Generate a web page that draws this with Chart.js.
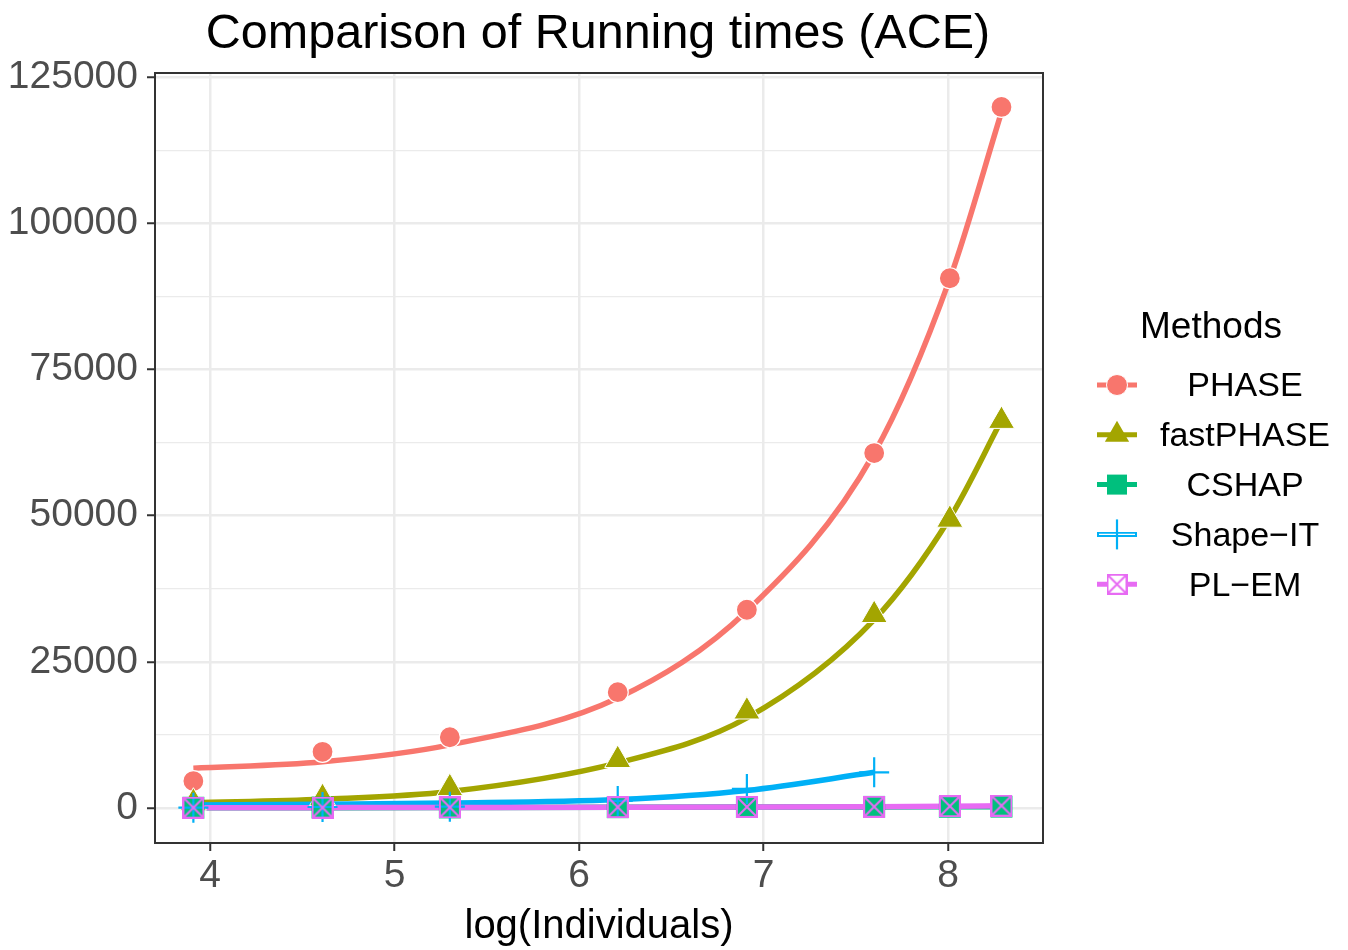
<!DOCTYPE html>
<html>
<head>
<meta charset="utf-8">
<script src="https://cdn.jsdelivr.net/npm/chart.js@4.4.0/dist/chart.umd.min.js"></script>
<style>
  html, body { margin: 0; padding: 0; background: #fff; }
  canvas { display: block; }
</style>
</head>
<body>
<canvas id="chart" width="1348" height="950"></canvas>
<script>
// x positions: log of 50, 100, 200, 500, 1000, 2000, 3000, 4000 individuals
const logIndividuals = [3.91, 4.61, 5.30, 6.21, 6.91, 7.60, 8.01, 8.29];
const xTicks = [4, 5, 6, 7, 8];
const yTicks = [0, 25000, 50000, 75000, 100000, 125000];

const methods = ['PHASE', 'fastPHASE', 'CSHAP', 'Shape\u2212IT', 'PL\u2212EM'];
const colors = ['#F8766D', '#A3A500', '#00BF7D', '#00B0F6', '#E76BF3'];

// observed running times (points)
const phaseTimes = [4600, 9600, 12100, 19800, 33900, 60700, 90600, 119900];
const fastPhaseTimes = [900, 1700, 3400, 8200, 16500, 33000, 49300, 66200];
const cshapTimes = [40, 60, 90, 130, 160, 190, 210, 230];
const shapeItTimes = [50, 170, 220, 1200, 3250, 6100];
const plemTimes = [50, 70, 100, 140, 180, 220, 300, 400];

// smoothed curves
const phaseFit = [6800, 7900, 10800, 18800, 33700, 60700, 90500, 119000];
const fastPhaseFit = [900, 1500, 2800, 7700, 15400, 32200, 49600, 66300];
const cshapFit = [30, 50, 80, 120, 150, 180, 190, 200];
const shapeItFit = [500, 650, 850, 1450, 3000, 6100];
const plemFit = [40, 60, 90, 130, 170, 230, 300, 380];

const FONT = '"Liberation Sans", Arial, Helvetica, sans-serif';

function toPoints(values) {
    return values.map((v, i) => ({ x: logIndividuals[i], y: v }));
}

function makeBoxX(size, color, lw) {
    const c = document.createElement('canvas');
    c.width = size;
    c.height = size;
    const g = c.getContext('2d');
    g.strokeStyle = color;
    g.lineWidth = lw;
    const h = lw / 2;
    g.strokeRect(h, h, size - lw, size - lw);
    g.beginPath();
    g.moveTo(h, h); g.lineTo(size - h, size - h);
    g.moveTo(size - h, h); g.lineTo(h, size - h);
    g.stroke();
    return c;
}

const plemMarker = makeBoxX(22, colors[4], 2);
const plemLegendMarker = makeBoxX(21, colors[4], 2);

function fitLine(values, color, order) {
    return {
        data: toPoints(values),
        borderColor: color,
        borderWidth: 5.5,
        pointRadius: 0,
        fill: false,
        cubicInterpolationMode: 'monotone',
        order: order
    };
}

function pointSet(values, style, order) {
    return Object.assign({
        data: toPoints(values),
        showLine: false,
        order: order
    }, style);
}

const datasets = [
    // points on top, PL-EM drawn last
    pointSet(plemTimes, { pointStyle: plemMarker, pointRadius: 11 }, 0),
    pointSet(shapeItTimes, { pointStyle: 'cross', pointRadius: 15, pointBorderColor: colors[3], pointBorderWidth: 2.2 }, 1),
    pointSet(cshapTimes, { pointStyle: 'rect', pointRadius: 15.5, pointBackgroundColor: colors[2], pointBorderWidth: 0 }, 2),
    pointSet(fastPhaseTimes, { pointStyle: 'triangle', pointRadius: 15, pointBackgroundColor: colors[1], pointBorderColor: '#ffffff', pointBorderWidth: 1 }, 3),
    pointSet(phaseTimes, { pointStyle: 'circle', pointRadius: 10.5, pointBackgroundColor: colors[0], pointBorderColor: '#ffffff', pointBorderWidth: 1.2 }, 4),
    // fitted lines underneath
    fitLine(plemFit, colors[4], 10),
    fitLine(shapeItFit, colors[3], 11),
    fitLine(cshapFit, colors[2], 12),
    fitLine(fastPhaseFit, colors[1], 13),
    fitLine(phaseFit, colors[0], 14)
];

const ggDecor = {
    id: 'ggDecor',
    beforeDraw(chart) {
        const ctx = chart.ctx;
        ctx.save();
        ctx.fillStyle = '#ffffff';
        ctx.fillRect(0, 0, chart.width, chart.height);
        ctx.restore();
    },
    afterDatasetsDraw(chart) {
        const { ctx, chartArea: a } = chart;
        ctx.save();
        ctx.strokeStyle = '#333333';
        ctx.lineWidth = 2;
        ctx.strokeRect(a.left, a.top, a.right - a.left, a.bottom - a.top);
        ctx.restore();
    },
    afterDraw(chart) {
        const { ctx, chartArea: a } = chart;
        ctx.save();
        ctx.fillStyle = '#000000';
        ctx.textAlign = 'center';
        ctx.textBaseline = 'alphabetic';
        // title
        ctx.font = '48.5px ' + FONT;
        ctx.fillText('Comparison of Running times (ACE)', 598, 48);
        // x axis title
        ctx.font = '40px ' + FONT;
        ctx.fillText('log(Individuals)', (a.left + a.right) / 2, 938);

        // legend
        ctx.font = '37px ' + FONT;
        ctx.textBaseline = 'middle';
        ctx.fillText('Methods', 1211, 328);
        ctx.font = '34px ' + FONT;
        const x0 = 1097, x1 = 1137, cx = 1117;
        methods.forEach((m, i) => {
            const y = 385 + i * 49.8;
            const col = colors[i];
            ctx.strokeStyle = col;
            ctx.lineWidth = 5;
            ctx.beginPath();
            ctx.moveTo(x0, y); ctx.lineTo(x1, y);
            ctx.stroke();
            if (i === 3) {
                ctx.strokeStyle = '#ffffff';
                ctx.lineWidth = 1.2;
                ctx.beginPath();
                ctx.moveTo(x0 + 2, y); ctx.lineTo(x1 - 2, y);
                ctx.stroke();
            }
            ctx.fillStyle = col;
            if (i === 0) {
                ctx.beginPath();
                ctx.arc(cx, y, 10.5, 0, Math.PI * 2);
                ctx.fill();
                ctx.strokeStyle = '#ffffff';
                ctx.lineWidth = 1;
                ctx.stroke();
            } else if (i === 1) {
                const r = 14;
                ctx.beginPath();
                ctx.moveTo(cx, y - r);
                ctx.lineTo(cx + r * 0.866, y + r / 2);
                ctx.lineTo(cx - r * 0.866, y + r / 2);
                ctx.closePath();
                ctx.fill();
            } else if (i === 2) {
                ctx.fillRect(cx - 10, y - 10, 20, 20);
            } else if (i === 3) {
                ctx.strokeStyle = col;
                ctx.lineWidth = 2.2;
                ctx.beginPath();
                ctx.moveTo(cx, y - 15); ctx.lineTo(cx, y + 15);
                ctx.stroke();
            } else {
                ctx.fillStyle = '#ffffff';
                ctx.fillRect(cx - 10, y - 10, 20, 20);
                ctx.drawImage(plemLegendMarker, cx - 10.5, y - 10.5);
            }
            ctx.fillStyle = '#000000';
            ctx.fillText(m, 1245, y + 2);
        });
        ctx.restore();
    }
};

new Chart(document.getElementById('chart'), {
    type: 'line',
    data: { datasets: datasets },
    plugins: [ggDecor],
    options: {
        responsive: false,
        animation: false,
        devicePixelRatio: 1,
        layout: { padding: { left: 0, right: 305, top: 73, bottom: 0 } },
        plugins: {
            legend: { display: false },
            title: { display: false },
            tooltip: { enabled: false }
        },
        scales: {
            x: {
                type: 'linear',
                min: 3.702,
                max: 8.515,
                afterBuildTicks: (scale) => { scale.ticks = xTicks.map(v => ({ value: v })); },
                afterFit: (scale) => { scale.height = 107; },
                border: { display: false },
                grid: {
                    color: '#EBEBEB',
                    lineWidth: 2.5,
                    tickLength: 8,
                    tickColor: '#333333',
                    tickWidth: 2
                },
                ticks: {
                    color: '#4D4D4D',
                    font: { family: FONT, size: 39 },
                    padding: 2,
                    maxRotation: 0,
                    autoSkip: false
                }
            },
            y: {
                type: 'linear',
                min: -5990,
                max: 125700,
                afterBuildTicks: (scale) => {
                    const t = [];
                    for (let v = 0; v <= 125000; v += 12500) t.push({ value: v });
                    scale.ticks = t;
                },
                afterFit: (scale) => { scale.width = 155; },
                border: { display: false },
                grid: {
                    color: '#EBEBEB',
                    lineWidth: (c) => (yTicks.includes(c.tick.value) ? 2.5 : 1.3),
                    tickLength: 8,
                    tickColor: (c) => (yTicks.includes(c.tick.value) ? '#333333' : 'rgba(0,0,0,0)'),
                    tickWidth: 2
                },
                ticks: {
                    color: '#4D4D4D',
                    font: { family: FONT, size: 39 },
                    padding: 9,
                    autoSkip: false,
                    callback: (v) => (yTicks.includes(v) ? String(v) : '')
                }
            }
        }
    }
});
</script>
</body>
</html>
